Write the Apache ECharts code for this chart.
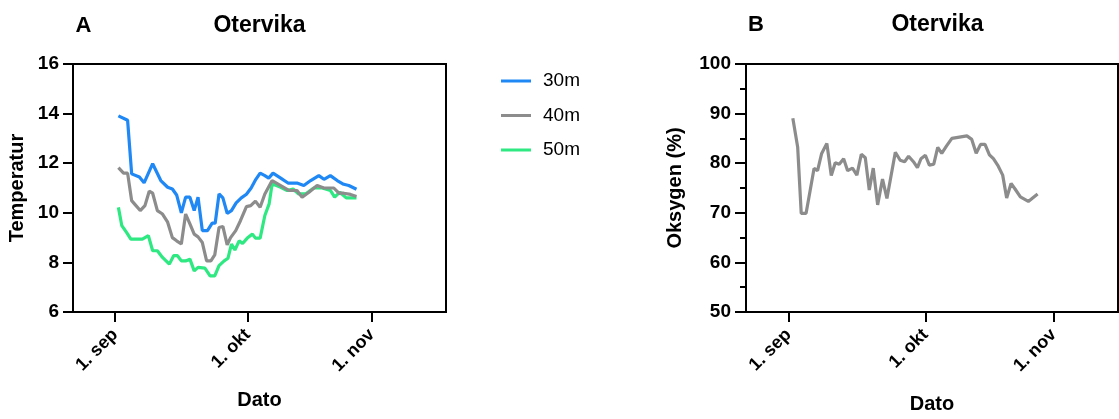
<!DOCTYPE html>
<html>
<head>
<meta charset="utf-8">
<script src="https://cdn.jsdelivr.net/npm/echarts@6/dist/echarts.min.js"></script>
<style>html,body{margin:0;padding:0;background:#fff;}#c{width:1119px;height:419px;}</style>
</head>
<body>
<div id="c"></div>
<script>
// x = day offset (1. sep = 0)
var xTickValues = [0, 31, 60];
var xTickLabels = ['1. sep', '1. okt', '1. nov'];
var seriesNames = ['30m', '40m', '50m'];

var temp30 = [[0.8,13.91],[2.95,13.73],[3.9,11.57],[5.7,11.44],[6.8,11.21],[8.8,11.98],[10.7,11.30],[12.3,11.03],[13.4,10.96],[14.4,10.72],[15.5,10.0],[16.5,10.63],[17.5,10.63],[18.5,10.09],[19.4,10.63],[20.4,9.28],[21.6,9.28],[22.7,9.58],[23.4,9.58],[24.3,10.76],[25.2,10.6],[26.2,9.98],[27.2,10.09],[28.3,10.4],[29.5,10.6],[30.7,10.75],[31.8,11.0],[32.9,11.35],[33.9,11.6],[35.0,11.5],[35.9,11.4],[36.9,11.6],[38.7,11.4],[40.4,11.2],[42.5,11.2],[44.1,11.1],[45.7,11.3],[47.6,11.5],[48.8,11.35],[50.3,11.5],[51.9,11.3],[53.4,11.15],[54.6,11.1],[56.4,10.95]];

var temp40 = [[0.8,11.82],[2.0,11.6],[2.95,11.6],[3.9,10.49],[4.7,10.33],[5.9,10.09],[7.0,10.29],[8.0,10.87],[8.8,10.79],[9.9,10.09],[11.1,9.95],[12.3,9.62],[13.4,9.0],[14.4,8.87],[15.5,8.74],[16.5,9.95],[17.5,9.55],[18.5,9.14],[19.4,9.03],[20.4,8.8],[21.4,8.06],[22.4,8.06],[23.3,8.3],[24.3,9.41],[25.2,9.45],[26.2,8.71],[27.0,9.0],[28.2,9.28],[29.3,9.68],[30.7,10.25],[31.7,10.29],[32.8,10.47],[33.9,10.22],[35.0,10.76],[36.7,11.3],[38.7,11.1],[40.6,10.9],[42.5,10.9],[43.7,10.63],[45.3,10.83],[47.2,11.1],[48.8,11.0],[51.1,11.0],[52.3,10.79],[53.4,10.79],[55.0,10.74],[56.4,10.66]];

var temp50 = [[0.8,10.22],[1.6,9.48],[2.7,9.21],[3.7,8.94],[6.4,8.94],[7.8,9.08],[8.8,8.47],[9.9,8.47],[11.1,8.2],[12.7,7.93],[13.7,8.27],[14.6,8.27],[15.5,8.06],[16.5,8.06],[17.5,8.13],[18.5,7.66],[19.4,7.80],[21.0,7.77],[22.2,7.46],[23.3,7.46],[24.3,7.87],[25.5,8.06],[26.4,8.17],[27.2,8.74],[28.0,8.5],[29.0,8.87],[29.8,8.76],[30.9,8.98],[32.1,9.14],[32.8,8.98],[33.9,8.98],[35.0,9.89],[36.0,10.36],[36.7,11.17],[38.7,11.03],[40.2,10.9],[41.6,10.96],[42.9,10.76],[44.5,10.76],[46.4,11.0],[48.4,11.0],[50.3,10.9],[51.3,10.63],[52.5,10.83],[54.0,10.6],[56.4,10.6]];

var oxygen = [[1.0,89.08],[2.1,83.2],[2.9,69.9],[4.0,69.9],[4.9,74.4],[5.8,78.95],[6.6,78.5],[7.5,81.9],[8.7,84.0],[9.7,77.5],[10.6,80.1],[11.5,79.8],[12.5,80.9],[13.4,78.5],[14.5,79.0],[15.5,77.6],[16.5,81.8],[17.4,81.1],[18.3,74.6],[19.2,79.0],[20.2,71.6],[21.3,76.8],[22.3,72.9],[24.2,82.2],[25.3,80.6],[26.3,80.3],[27.2,81.4],[28.3,80.3],[29.2,79.1],[30.0,80.9],[31.0,81.6],[31.9,79.6],[32.9,79.8],[33.8,83.2],[34.7,82.0],[35.8,83.5],[37.0,85.0],[40.4,85.5],[41.5,84.8],[42.5,82.0],[43.5,83.8],[44.5,83.8],[45.5,81.7],[46.4,80.9],[47.5,79.4],[48.5,77.6],[49.4,73.0],[50.4,75.9],[51.3,74.8],[52.5,73.2],[54.3,72.3],[56.4,73.8]];

var colors = ['#1f88f5', '#8c8c8c', '#2ee882'];
var FONT = '"Liberation Sans", Arial, Helvetica, sans-serif';

function xAxisCfg(gridIndex, min, max, gap) {
  return {
    type: 'value', gridIndex: gridIndex, min: min, max: max,
    name: 'Dato', nameLocation: 'middle', nameGap: gap,
    nameTextStyle: {fontFamily: FONT, fontWeight: 'bold', fontSize: 20, color: '#000'},
    axisLine: {show: true, onZero: false, lineStyle: {color: '#000', width: 2}},
    axisTick: {show: true, customValues: xTickValues, length: 10, lineStyle: {color: '#000', width: 2}},
    axisLabel: {show: true, customValues: xTickValues, rotate: 45, margin: 20,
      fontFamily: FONT, fontWeight: 'bold', fontSize: 18, color: '#000',
      formatter: function (v) { var i = xTickValues.indexOf(v); return i >= 0 ? xTickLabels[i] : ''; }},
    splitLine: {show: false}
  };
}

var option = {
  animation: false,
  backgroundColor: '#fff',
  grid: [
    {left: 73, top: 64, width: 373, height: 248, show: true, borderColor: '#000', borderWidth: 2, backgroundColor: 'transparent'},
    {left: 746, top: 64, width: 372, height: 256, show: true, borderColor: '#000', borderWidth: 2, backgroundColor: 'transparent'}
  ],
  xAxis: [ xAxisCfg(0, -9.8, 77.3, 78), xAxisCfg(1, -9.6, 74.6, 82) ],
  yAxis: [
    {type: 'value', gridIndex: 0, min: 6, max: 16, interval: 2,
      name: 'Temperatur', nameLocation: 'middle', nameGap: 46,
      nameTextStyle: {fontFamily: FONT, fontWeight: 'bold', fontSize: 20, color: '#000'},
      axisLine: {show: true, onZero: false, lineStyle: {color: '#000', width: 2}},
      axisTick: {show: true, length: 10, lineStyle: {color: '#000', width: 2}},
      axisLabel: {margin: 14, fontFamily: FONT, fontWeight: 'bold', fontSize: 19, color: '#000'},
      splitLine: {show: false}},
    {type: 'value', gridIndex: 1, min: 50, max: 100, interval: 10,
      name: 'Oksygen (%)', nameLocation: 'middle', nameGap: 61,
      nameTextStyle: {fontFamily: FONT, fontWeight: 'bold', fontSize: 20, color: '#000'},
      axisLine: {show: true, onZero: false, lineStyle: {color: '#000', width: 2}},
      axisTick: {show: true, length: 11, lineStyle: {color: '#000', width: 2}},
      minorTick: {show: true, splitNumber: 2, length: 6, lineStyle: {color: '#000', width: 2}},
      axisLabel: {margin: 15, fontFamily: FONT, fontWeight: 'bold', fontSize: 19, color: '#000'},
      splitLine: {show: false}, minorSplitLine: {show: false}}
  ],
  legend: {
    orient: 'vertical', left: 501, top: 71, padding: 0,
    icon: 'rect', itemWidth: 30, itemHeight: 3, itemGap: 14.5,
    data: seriesNames,
    textStyle: {fontFamily: FONT, fontSize: 19, color: '#000', lineHeight: 20, padding: [0, 0, 0, 7]}
  },
  graphic: [
    {type: 'text', style: {text: 'A', x: 83.5, y: 26, textAlign: 'center', textVerticalAlign: 'middle', font: 'bold 22px ' + FONT, fill: '#000'}},
    {type: 'text', style: {text: 'Otervika', x: 259.5, y: 26, textAlign: 'center', textVerticalAlign: 'middle', font: 'bold 23px ' + FONT, fill: '#000'}},
    {type: 'text', style: {text: 'B', x: 756, y: 25, textAlign: 'center', textVerticalAlign: 'middle', font: 'bold 22px ' + FONT, fill: '#000'}},
    {type: 'text', style: {text: 'Otervika', x: 937.5, y: 25, textAlign: 'center', textVerticalAlign: 'middle', font: 'bold 23px ' + FONT, fill: '#000'}}
  ],
  series: [
    {name: seriesNames[0], type: 'line', xAxisIndex: 0, yAxisIndex: 0, data: temp30, showSymbol: false, symbol: 'none', color: colors[0], lineStyle: {width: 3.2, color: colors[0]}, z: 3},
    {name: seriesNames[1], type: 'line', xAxisIndex: 0, yAxisIndex: 0, data: temp40, showSymbol: false, symbol: 'none', color: colors[1], lineStyle: {width: 3.2, color: colors[1]}, z: 4},
    {name: seriesNames[2], type: 'line', xAxisIndex: 0, yAxisIndex: 0, data: temp50, showSymbol: false, symbol: 'none', color: colors[2], lineStyle: {width: 3.2, color: colors[2]}, z: 2},
    {name: 'Oksygen', type: 'line', xAxisIndex: 1, yAxisIndex: 1, data: oxygen, showSymbol: false, symbol: 'none', color: colors[1], lineStyle: {width: 3.2, color: colors[1]}}
  ]
};
var chart = echarts.init(document.getElementById('c'), null, {renderer: 'canvas'});
chart.setOption(option);
</script>
</body>
</html>
